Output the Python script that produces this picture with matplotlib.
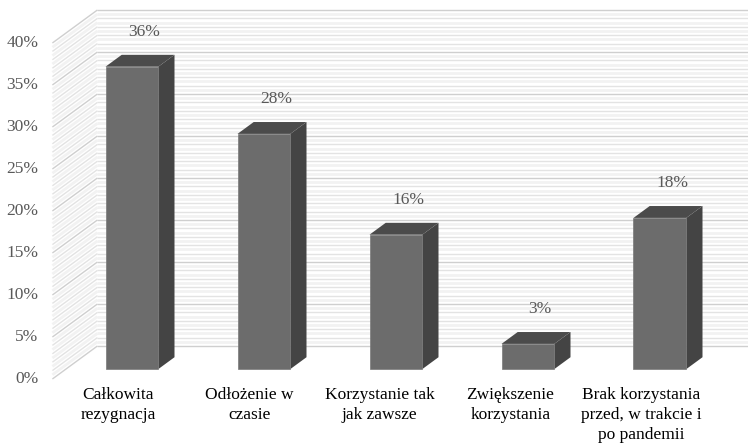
import matplotlib
matplotlib.use("Agg")
import matplotlib.pyplot as plt
from matplotlib.patches import Polygon
import numpy as np

categories = ["Całkowita\nrezygnacja", "Odłożenie w\nczasie", "Korzystanie tak\njak zawsze",
              "Zwiększenie\nkorzystania", "Brak korzystania\nprzed, w trakcie i\npo pandemii"]
values = [36, 28, 16, 3, 18]
value_labels = ["36%", "28%", "16%", "3%", "18%"]
yticks = [0, 5, 10, 15, 20, 25, 30, 35, 40]
ytick_labels = ["0%", "5%", "10%", "15%", "20%", "25%", "30%", "35%", "40%"]

W, H = 748, 445
fig = plt.figure(figsize=(W / 100, H / 100), dpi=100)
ax = fig.add_axes([0, 0, 1, 1])
# pixel mapping: x_px = 118.4 + 132*x ; y_px(from top) = 379 - 8.4*v
ax.set_xlim((0 - 118.4) / 132, (W - 118.4) / 132)
ax.set_ylim((379 - H) / 8.4, 379 / 8.4)
ax.axis("off")

DX = 45 / 132      # depth shift in x units per unit depth
DV = 33 / 8.4      # depth shift in value units per unit depth
ymax = 40
x_left, x_right = -0.5, 4.5


def P(x, v, z):
    return (x + z * DX, v + z * DV)


# back wall and side wall grid texture
for k in np.arange(0, ymax + 0.01, 0.5):
    if abs(k % 5) < 1e-9:
        col, lw = "#cfcfcf", 1.0
    elif abs(k % 1) < 1e-9:
        col, lw = "#e3e3e3", 1.0
    else:
        col, lw = "#f2f2f2", 2.0
    a = P(x_left, k, 1)
    b = P(x_right + 1, k, 1)
    ax.plot([a[0], b[0]], [a[1], b[1]], color=col, lw=lw, zorder=1, solid_capstyle="butt")
    c = P(x_left, k, 0)
    ax.plot([c[0], a[0]], [c[1], a[1]], color=col, lw=lw, zorder=1, solid_capstyle="butt")

# bars
bw = 0.4
z0, z1 = 0.3, 0.66
for i, v in enumerate(values):
    xl = i - bw / 2
    xr = i + bw / 2
    side = Polygon([P(xr, 0, z0), P(xr, 0, z1), P(xr, v, z1), P(xr, v, z0)],
                   closed=True, facecolor="#444444", edgecolor="none", zorder=3)
    ax.add_patch(side)
    top = Polygon([P(xl, v, z0), P(xr, v, z0), P(xr, v, z1), P(xl, v, z1)],
                  closed=True, facecolor="#4b4b4b", edgecolor="none", zorder=3)
    ax.add_patch(top)
    fx, fv = P(xl, 0, z0)
    ax.bar(fx, v, width=bw, bottom=fv, align="edge", color="#6c6c6c",
           edgecolor="#7a7a7a", linewidth=0.5, zorder=4)
    lx, lv = P(i, v, (z0 + z1) / 2)
    ax.annotate(value_labels[i], (lx, lv), xytext=(3, 20.5), textcoords="offset points",
                ha="center", va="center", fontsize=12.5, color="#595959",
                family="Liberation Serif", zorder=5)

# y tick labels
for t, lab in zip(yticks, ytick_labels):
    ax.text(x_left - 0.105, t, lab, ha="right", va="center", fontsize=12.5,
            color="#595959", family="Liberation Serif")

# category labels
for i, lab in enumerate(categories):
    ax.text(i * 0.99, -1.0, lab, ha="center", va="top", fontsize=12.5, color="black",
            family="Liberation Serif", linespacing=1.3)

fig.savefig("out.png", dpi=100)
